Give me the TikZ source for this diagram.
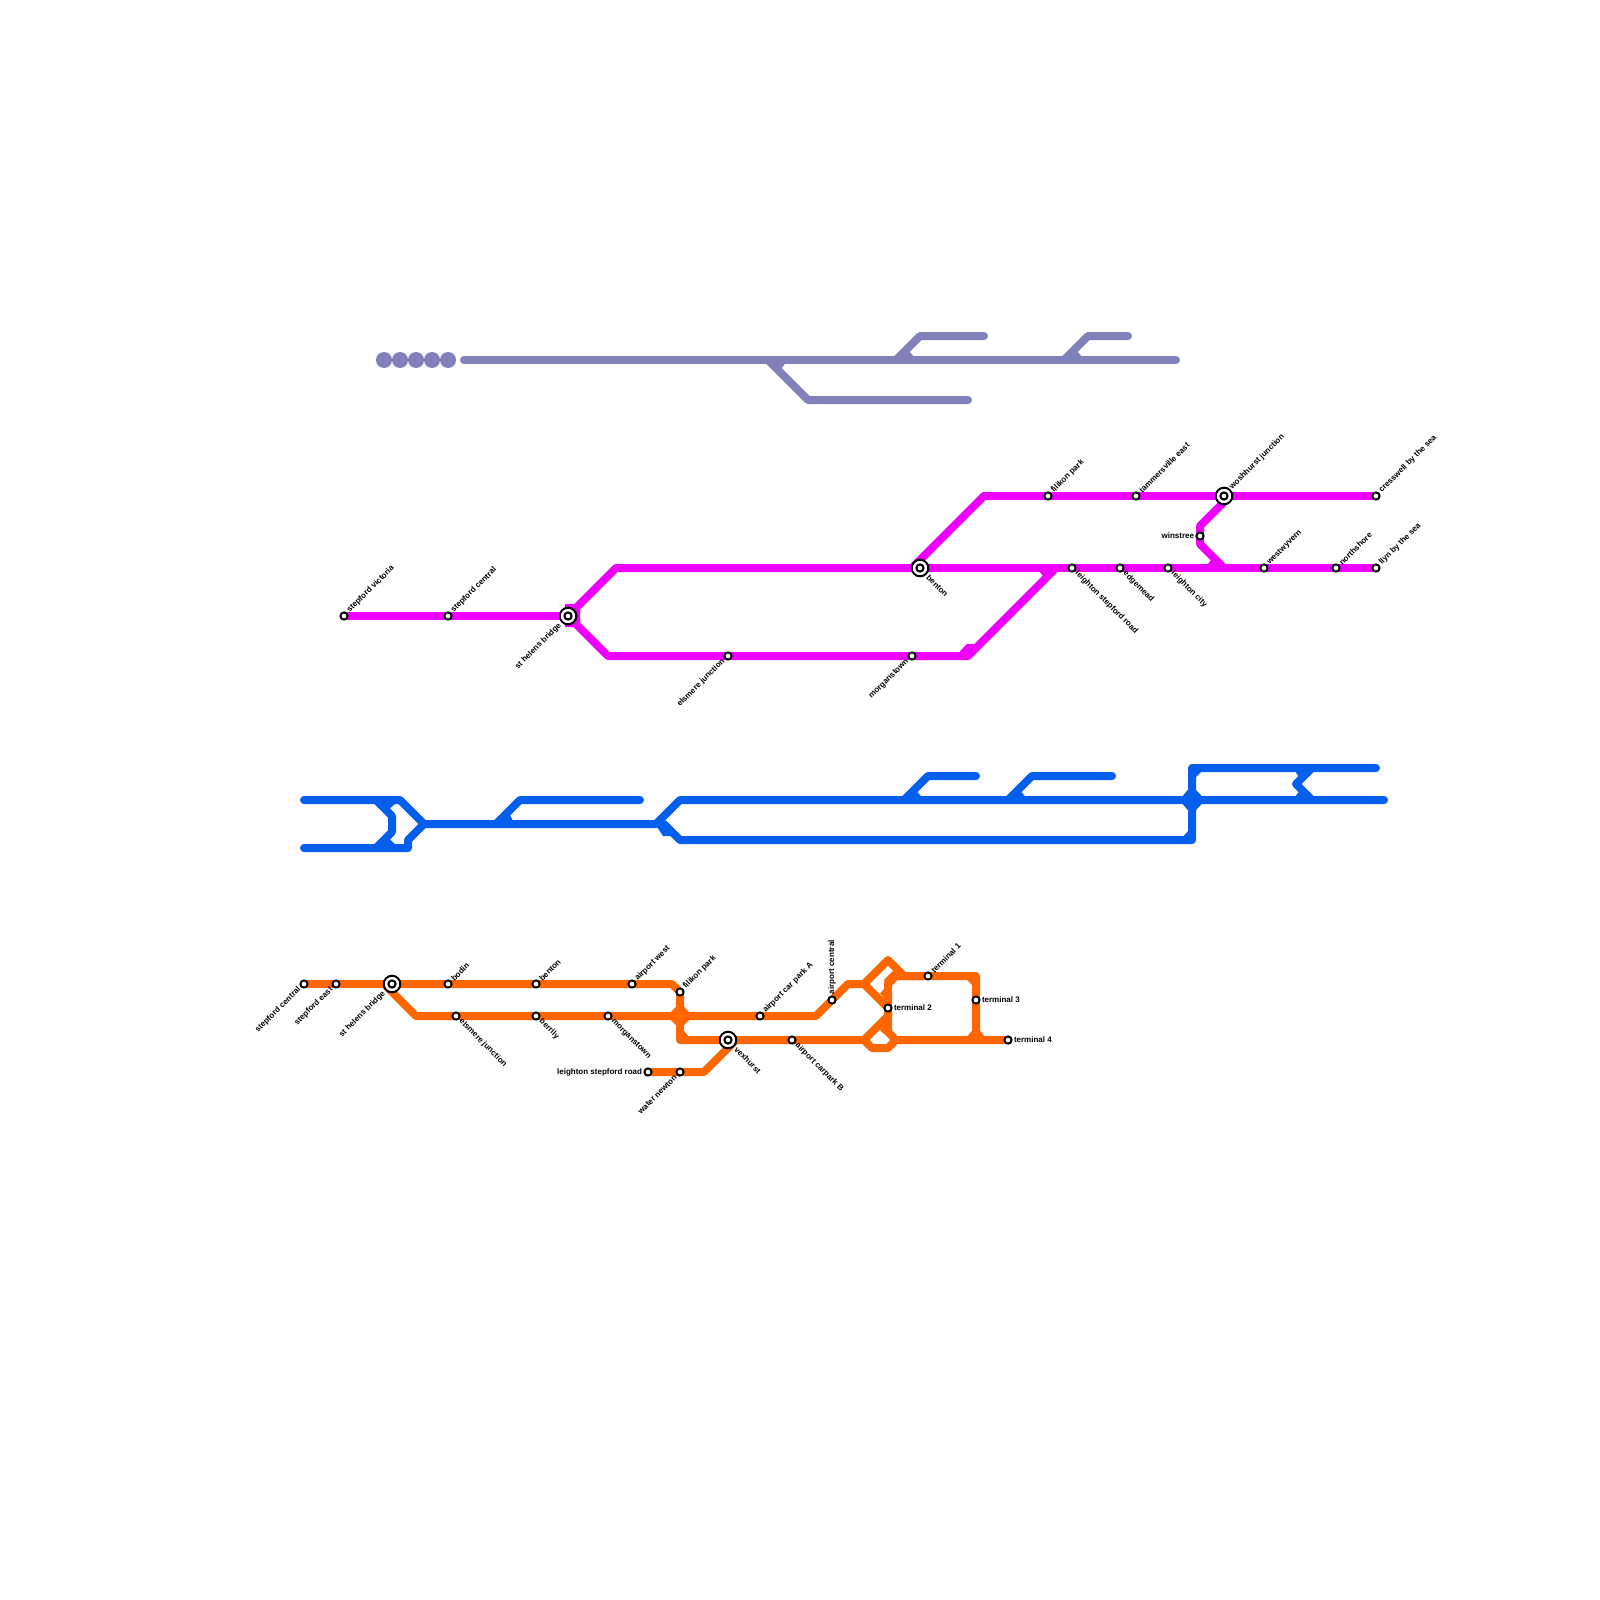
\documentclass[tikz,border=0pt]{standalone}
\usepackage{fontspec}
\setmainfont{Liberation Sans}
\pgfdeclarelayer{bg}
\pgfsetlayers{bg,main}
\definecolor{cgrey}{HTML}{8080BA}
\definecolor{cmag}{HTML}{EE00FF}
\definecolor{cblue}{HTML}{055EEC}
\definecolor{corange}{HTML}{FF6600}
\tikzset{
  stn/.style={circle,draw=black,fill=white,line width=2pt,minimum size=7.2pt,inner sep=0pt,outer sep=0pt},
  hub/.style={circle,draw=black,fill=white,line width=2pt,minimum size=16.6pt,inner sep=0pt,outer sep=0pt},
  txt/.style={font=\fontsize{8}{8}\selectfont\bfseries,inner sep=0pt,outer sep=0pt,text=black},
  lne/.style={txt,rotate=45,anchor=west},
  lsw/.style={txt,rotate=45,anchor=east},
  lse/.style={txt,rotate=-45,anchor=west},
  lee/.style={txt,anchor=west},
  lww/.style={txt,anchor=east},
  lnn/.style={txt,rotate=90,anchor=west},
  route/.style={line width=8pt,line cap=round,line join=round},
  greyl/.style={route,draw=cgrey},
  magl/.style={route,draw=cmag},
  bluel/.style={route,draw=cblue},
  orgl/.style={route,draw=corange},
}
\begin{document}
\begin{tikzpicture}[x=1pt,y=-1pt]
\useasboundingbox (0,0) rectangle (1600,1600);

% ---------- grey line ----------
\foreach \n/\x in {d1/384,d2/400,d3/416,d4/432,d5/448}
  \node[circle,fill=cgrey,minimum size=16pt,inner sep=0pt,outer sep=0pt] (\n) at (\x,360) {};
\coordinate (ga) at (464,360); \coordinate (gb) at (1176,360);
\coordinate (gc) at (896,360); \coordinate (gd) at (920,336); \coordinate (ge) at (984,336);
\coordinate (gf) at (1064,360); \coordinate (gg) at (1088,336); \coordinate (gh) at (1128,336);
\coordinate (gi) at (768,360); \coordinate (gj) at (808,400); \coordinate (gk) at (968,400);

% ---------- magenta stations ----------
\node[hub] (mh1) at (568,616) {}; \node[stn] (m3) at (568,616) {};
\node[hub] (mh2) at (920,568) {}; \node[stn] (m6) at (920,568) {};
\node[hub] (mh3) at (1224,496) {}; \node[stn] (m9) at (1224,496) {};
\foreach \n/\x/\y in {m1/344/616,m2/448/616,m4/728/656,m5/912/656,m7/1048/496,m8/1136/496,m10/1376/496,
  m11/1200/536,m12/1072/568,m13/1120/568,m14/1168/568,m15/1264/568,m16/1336/568,m17/1376/568}
  \node[stn] (\n) at (\x,\y) {};
\node[lne] (tm1) at ([shift={(4.5,-4.5)}]m1) {stepford victoria};
\node[lne] (tm2) at ([shift={(4.5,-4.5)}]m2) {stepford central};
\node[lsw] (tm3) at ([shift={(-8,8.5)}]m3) {st helens bridge};
\node[lsw] (tm4) at ([shift={(-4.5,4.5)}]m4) {elsmere junction};
\node[lsw] (tm5) at ([shift={(-4.5,4.5)}]m5) {morganstown};
\node[lse] (tm6) at ([shift={(8,8.5)}]m6) {benton};
\node[lne] (tm7) at ([shift={(4.5,-4.5)}]m7) {filikon park};
\node[lne] (tm8) at ([shift={(4.5,-4.5)}]m8) {tammersville east};
\node[lne] (tm9) at ([shift={(7,-8)}]m9) {woshhurst junction};
\node[lne] (tm10) at ([shift={(4.5,-4.5)}]m10) {cresswell by the sea};
\node[lww] (tm11) at ([shift={(-6,0)}]m11) {winstree};
\node[lse] (tm12) at ([shift={(4.5,4.5)}]m12) {leighton stepford road};
\node[lse] (tm13) at ([shift={(4.5,4.5)}]m13) {edgemead};
\node[lse] (tm14) at ([shift={(4.5,4.5)}]m14) {leighton city};
\node[lne] (tm15) at ([shift={(4.5,-4.5)}]m15) {westwyvern};
\node[lne] (tm16) at ([shift={(4.5,-4.5)}]m16) {northshore};
\node[lne] (tm17) at ([shift={(4.5,-4.5)}]m17) {llyn by the sea};
\coordinate (ma) at (616,568); \coordinate (mb) at (608,656);
\coordinate (mc) at (968,656); \coordinate (md) at (1056,568);
\coordinate (me) at (984,496); \coordinate (mf) at (912,568);
\coordinate (mg) at (1228,498); \coordinate (mi) at (1200,526);
\coordinate (mj) at (1200,544); \coordinate (mk) at (1224,568);

% ---------- blue line ----------
\coordinate (ba) at (304,800); \coordinate (bb) at (400,800); \coordinate (bc) at (424,824);
\coordinate (bd) at (304,848); \coordinate (be) at (408,848); \coordinate (bf) at (408,840);
\coordinate (bg) at (376,800); \coordinate (bh) at (392,816); \coordinate (bi) at (392,832); \coordinate (bj) at (376,848);
\coordinate (bk) at (656,824); \coordinate (bl) at (496,824); \coordinate (bm) at (520,800); \coordinate (bn) at (640,800);
\coordinate (bo) at (680,800); \coordinate (bp) at (1384,800); \coordinate (bq) at (680,840); \coordinate (bq2) at (664,824);
\coordinate (br) at (1192,840); \coordinate (bs) at (1192,768); \coordinate (bt) at (1376,768);
\coordinate (bu) at (904,800); \coordinate (bv) at (928,776); \coordinate (bw) at (976,776);
\coordinate (bx) at (1008,800); \coordinate (by) at (1032,776); \coordinate (bz) at (1112,776);
\coordinate (ca) at (1312,768); \coordinate (cb) at (1296,784); \coordinate (cc) at (1312,800);

% ---------- orange stations ----------
\node[hub] (oh1) at (392,984) {}; \node[stn] (o3) at (392,984) {};
\node[hub] (oh2) at (728,1040) {}; \node[stn] (o18) at (728,1040) {};
\foreach \n/\x/\y in {o1/304/984,o2/336/984,o4/448/984,o5/536/984,o6/632/984,o7/680/992,o8/760/1016,o9/832/1000,
  o10/928/976,o11/888/1008,o12/976/1000,o13/1008/1040,o14/456/1016,o15/536/1016,o16/608/1016,o17/792/1040,
  o19/648/1072,o20/680/1072}
  \node[stn] (\n) at (\x,\y) {};
\node[lsw] (to1) at ([shift={(-4.5,4.5)}]o1) {stepford central};
\node[lsw] (to2) at ([shift={(-4.5,4.5)}]o2) {stepford east};
\node[lsw] (to3) at ([shift={(-8,8.5)}]o3) {st helens bridge};
\node[lne] (to4) at ([shift={(4.5,-4.5)}]o4) {bodin};
\node[lne] (to5) at ([shift={(4.5,-4.5)}]o5) {benton};
\node[lne] (to6) at ([shift={(4.5,-4.5)}]o6) {airport west};
\node[lne] (to7) at ([shift={(4.5,-4.5)}]o7) {filikon park};
\node[lne] (to8) at ([shift={(4.5,-4.5)}]o8) {airport car park A};
\node[lnn] (to9) at ([shift={(0,-6)}]o9) {airport central};
\node[lne] (to10) at ([shift={(4.5,-4.5)}]o10) {terminal 1};
\node[lee] (to11) at ([shift={(6,0)}]o11) {terminal 2};
\node[lee] (to12) at ([shift={(6,0)}]o12) {terminal 3};
\node[lee] (to13) at ([shift={(6,0)}]o13) {terminal 4};
\node[lse] (to14) at ([shift={(4.5,4.5)}]o14) {elsmere junction};
\node[lse] (to15) at ([shift={(4.5,4.5)}]o15) {berrily};
\node[lse] (to16) at ([shift={(4.5,4.5)}]o16) {morganstown};
\node[lse] (to17) at ([shift={(4.5,4.5)}]o17) {airport carpark B};
\node[lse] (to18) at ([shift={(8,8.5)}]o18) {vexhurst};
\node[lww] (to19) at ([shift={(-6,0)}]o19) {leighton stepford road};
\node[lsw] (to20) at ([shift={(-4.5,4.5)}]o20) {water newton};
\coordinate (oa) at (672,984); \coordinate (ob) at (680,1016); \coordinate (oc) at (680,1040);
\coordinate (od) at (384,984); \coordinate (oe) at (416,1016); \coordinate (of) at (816,1016);
\coordinate (og) at (848,984); \coordinate (oh) at (864,984); \coordinate (oi) at (888,960);
\coordinate (oj) at (904,976); \coordinate (ok) at (976,976); \coordinate (ol) at (976,1040);
\coordinate (om) at (888,984); \coordinate (on) at (896,976); \coordinate (oo) at (888,1032);
\coordinate (op) at (896,1040); \coordinate (oq) at (864,1040); \coordinate (or) at (888,1016);
\coordinate (os) at (872,1048); \coordinate (ot) at (888,1048); \coordinate (ou) at (704,1072);
\coordinate (ov) at (734,1042);

\begin{pgfonlayer}{bg}
\fill[white] (0,0) rectangle (1600,1600);
% grey
\draw[greyl] (ga) -- (gb);
\draw[greyl] (gc) -- (gd) -- (ge);
\draw[greyl] (gf) -- (gg) -- (gh);
\draw[greyl] (gi) -- (gj) -- (gk);
\fill[cgrey] (901,357) -- (910,352) -- (914,357) -- cycle;
\fill[cgrey] (1069,357) -- (1078,352) -- (1082,357) -- cycle;
\fill[cgrey] (770,362) -- (786,362) -- (782,368) -- (775,368) -- cycle;
% magenta
\draw[magl] (m1) -- (m2) -- (m3);
\draw[magl] (mh1.center) -- (ma) -- (mf) -- (m6);
\draw[magl] (mh1.center) -- (mb) -- (m4) -- (m5) -- (mc) -- (md);
\draw[magl] (me) -- (mf);
\draw[magl] (me) -- (m7) -- (m8) -- (m9) -- (m10);
\draw[magl] (m6) -- (m12) -- (m13) -- (m14) -- (m15) -- (m16) -- (m17);
\draw[magl] (mg) -- (mi) -- (m11) -- (mj) -- (mk);
\fill[cmag] (565,604) -- (574,604) -- (580,610) -- (580,622) -- (574,627) -- (565,627) -- cycle;
\fill[cmag] (959.3,652) -- (966.7,644) -- (975,644) -- (970,653) -- cycle;
\fill[cmag] (1039,571) -- (1043,576) -- (1052,571) -- cycle;
\fill[cmag] (1207.3,565) -- (1211,560) -- (1220,565) -- cycle;
% blue
\draw[bluel] (ba) -- (bb) -- (bc) -- (bk);
\draw[bluel] (bd) -- (be) -- (bf) -- (bc);
\draw[bluel] (bg) -- (bh) -- (bi) -- (bj);
\draw[bluel] (bl) -- (bm) -- (bn);
\draw[bluel] (bk) -- (bo) -- (bp);
\draw[bluel] (bq2) -- (bq) -- (br) -- (bs) -- (bt);
\draw[bluel] (bu) -- (bv) -- (bw);
\draw[bluel] (bx) -- (by) -- (bz);
\draw[bluel] (ca) -- (cb) -- (cc);
\fill[cblue] (384,803) -- (395,804) -- (390,808.3) -- cycle;
\fill[cblue] (384,845) -- (395,844) -- (390,839.5) -- cycle;
\fill[cblue] (500,821) -- (510,815) -- (513,821) -- cycle;
\fill[cblue] (655,824) -- (663,836) -- (672,836) -- (668,824) -- cycle;
\fill[cblue] (910,797) -- (917.7,792.3) -- (921.7,797) -- cycle;
\fill[cblue] (1014,797) -- (1021.7,792.3) -- (1025.7,797) -- cycle;
\fill[cblue] (1182.7,796) -- (1187.7,790) -- (1196,790) -- (1201.7,796) -- (1201.7,804) -- (1196,810) -- (1187.7,810) -- (1182.7,804) -- cycle;
\fill[cblue] (1195,771) -- (1202,771) -- (1195,778) -- cycle;
\fill[cblue] (1182.7,837) -- (1189,837) -- (1189,830) -- cycle;
\fill[cblue] (1295,771) -- (1305,771) -- (1298.3,776) -- cycle;
\fill[cblue] (1295,797) -- (1305,797) -- (1298.3,792.3) -- cycle;
% orange
\draw[orgl] (o1) -- (o2) -- (o3);
\draw[orgl] (o3) -- (o4) -- (o5) -- (o6) -- (oa) -- (o7) -- (ob) -- (oc) -- (o18);
\draw[orgl] (od) -- (oe) -- (o14) -- (o15) -- (o16) -- (o8) -- (of) -- (o9) -- (og) -- (oh) -- (oi) -- (oj) -- (o10) -- (ok) -- (o12) -- (ol);
\draw[orgl] (oh) -- (o11) -- (or) -- (oq);
\draw[orgl] (o11) -- (om) -- (on) -- (o10);
\draw[orgl] (o11) -- (oo) -- (op);
\draw[orgl] (o18) -- (o17) -- (oq) -- (os) -- (ot) -- (op) -- (o13);
\draw[orgl] (o19) -- (o20) -- (ou) -- (ov);
\fill[corange] (670.7,1012.3) -- (676,1006.7) -- (684,1006.7) -- (689.3,1012.3) -- (689.3,1020) -- (684,1025) -- (676,1025) -- (670.7,1020) -- cycle;
\fill[corange] (683,1030) -- (683,1037) -- (689.3,1037) -- cycle;
\fill[corange] (893.3,970.7) -- (905,976) -- (896,979) -- (888,987) -- (884.3,988) -- (884.3,979.5) -- cycle;
\fill[corange] (880,993.3) -- (884.5,988.5) -- (884.5,999) -- cycle;
\fill[corange] (880,1030) -- (884.5,1025) -- (884.5,1034.5) -- cycle;
\fill[corange] (966.7,979.5) -- (973,979.5) -- (973,986) -- cycle;
\fill[corange] (966.7,1037) -- (972,1030.7) -- (980,1030.7) -- (985.3,1037) -- cycle;
\end{pgfonlayer}
\end{tikzpicture}
\end{document}
